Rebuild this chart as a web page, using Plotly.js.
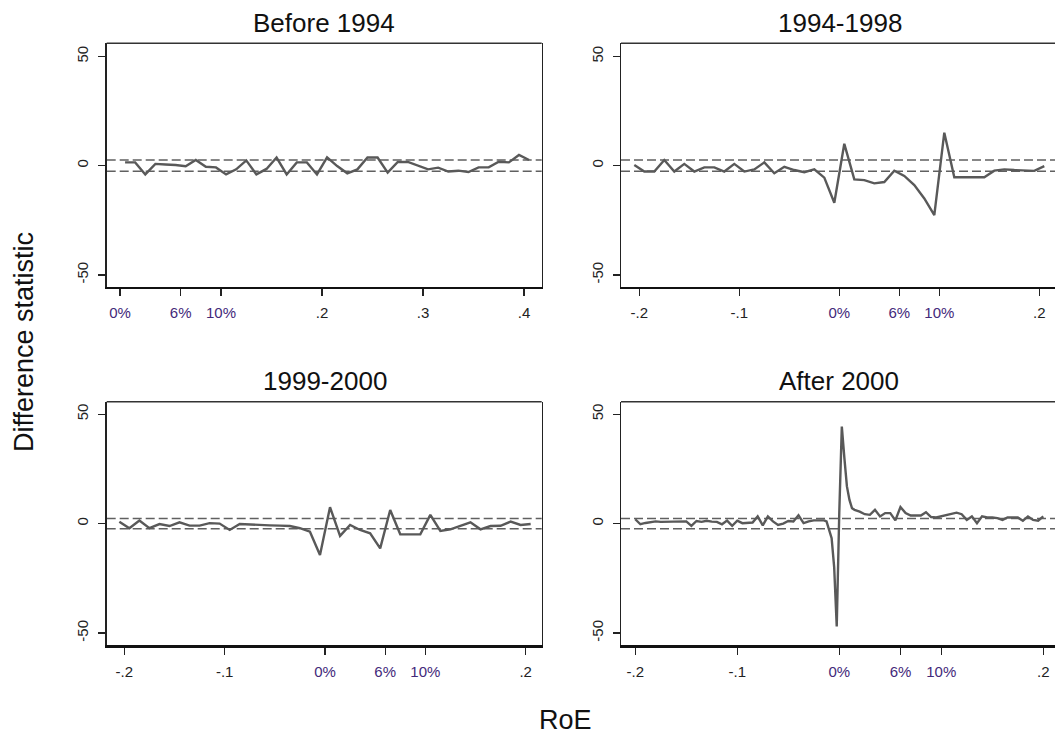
<!DOCTYPE html>
<html>
<head>
<meta charset="utf-8">
<script src="https://cdn.plot.ly/plotly-3.0.1.min.js"></script>
<style>
  html, body { margin: 0; padding: 0; background: #fff; overflow: hidden; }
  #chart { width: 1055px; height: 738px; }
</style>
</head>
<body>
<div id="chart"></div>
<script>
// ---------------- DATA ----------------
const panelTitles = ["Before 1994", "1994-1998", "1999-2000", "After 2000"];
const yAxisTitle = "Difference statistic";
const xAxisTitle = "RoE";

const yTickVals = [-50, 0, 50];
const yTickText = ["-50", "0", "50"];

const xTickVals1 = [0, 0.06, 0.1, 0.2, 0.3, 0.4];
const xTickText1 = ["0%", "6%", "10%", ".2", ".3", ".4"];
const xTickVals234 = [-0.2, -0.1, 0, 0.06, 0.1, 0.2];
const xTickText234 = ["-.2", "-.1", "0%", "6%", "10%", ".2"];

// critical bands (dashed lines)
const bandTop = [2.58, -2.58];
const bandBottom = [2.33, -2.33];

// Before 1994
const roe1 = [0.005,0.015,0.025,0.035,0.045,0.055,0.065,0.075,0.085,0.095,
              0.105,0.115,0.125,0.135,0.145,0.155,0.165,0.175,0.185,0.195,
              0.205,0.215,0.225,0.235,0.245,0.255,0.265,0.275,0.285,0.295,
              0.305,0.315,0.325,0.335,0.345,0.355,0.365,0.375,0.385,0.395,0.405];
const diff1 = [1.5,1.5,-4,0.8,0.5,0.3,-0.3,2.6,-0.5,-0.8,
               -4,-1.7,2.4,-4,-1.5,3.7,-4,1.5,1.5,-4,
               3.8,-0.2,-3.5,-1.7,3.7,3.7,-3.2,1.7,1.7,0,
               -1.7,-0.9,-2.7,-2.3,-2.9,-0.8,-0.8,1.8,1.5,4.9,2.6];

// 1994-1998
const roe2 = [-0.205,-0.195,-0.185,-0.175,-0.165,-0.155,-0.145,-0.135,-0.125,-0.115,
              -0.105,-0.095,-0.085,-0.075,-0.065,-0.055,-0.045,-0.035,-0.025,-0.015,
              -0.005,0.005,0.015,0.025,0.035,0.045,0.055,0.065,0.075,0.085,
              0.095,0.105,0.115,0.125,0.135,0.145,0.155,0.165,0.175,0.185,0.195,0.205];
const diff2 = [0.3,-2.7,-2.7,2.6,-2.7,0.8,-2.7,-0.8,-0.8,-2.7,
               0.8,-2.7,-1.7,1.5,-3.5,-0.5,-2,-3,-1.7,-5.5,
               -17,10,-6.3,-6.6,-8.1,-7.5,-2.3,-4.7,-8.9,-15,
               -22.6,15.1,-5.3,-5.3,-5.3,-5.3,-2.3,-1.7,-2,-2.3,-2.4,-0.2];

// 1999-2000
const roe3 = [-0.205,-0.195,-0.185,-0.175,-0.165,-0.155,-0.145,-0.135,-0.125,-0.115,
              -0.105,-0.095,-0.085,-0.075,-0.065,-0.055,-0.045,-0.035,-0.025,-0.015,
              -0.005,0.005,0.015,0.025,0.035,0.045,0.055,0.065,0.075,0.085,
              0.095,0.105,0.115,0.125,0.135,0.145,0.155,0.165,0.175,0.185,0.195,0.205];
const diff3 = [0.9,-2.1,1.4,-2.1,-0.2,-1.1,0.6,-0.9,-0.9,0.2,
               0.0,-2.9,-0.2,-0.5,-0.6,-0.8,-0.9,-1.1,-2.1,-3.7,
               -14.3,7.5,-5.6,-0.6,-2.9,-4.4,-11.3,6.2,-4.9,-4.9,
               -4.9,4.0,-3.3,-2.6,-1.1,0.6,-2.6,-1.1,-1.0,0.9,-0.6,-0.2];

// After 2000
const roe4 = [-0.200,-0.195,-0.190,-0.185,-0.180,-0.175,-0.170,-0.165,-0.160,-0.155,
              -0.150,-0.145,-0.140,-0.135,-0.130,-0.125,-0.120,-0.115,-0.110,-0.105,
              -0.100,-0.095,-0.090,-0.085,-0.080,-0.075,-0.070,-0.065,-0.060,-0.055,
              -0.050,-0.045,-0.040,-0.035,-0.030,-0.025,-0.020,-0.015,
              -0.0125,-0.010,-0.0075,-0.005,-0.0025,0,0.0025,0.005,0.0075,0.010,0.0125,0.015,
              0.020,0.025,0.030,0.035,0.040,0.045,0.050,0.055,0.060,0.065,
              0.070,0.075,0.080,0.085,0.090,0.095,0.100,0.105,0.110,0.115,
              0.120,0.125,0.130,0.135,0.140,0.145,0.150,0.155,0.160,0.165,
              0.170,0.175,0.180,0.185,0.190,0.195,0.200];
const diff4 = [2.0,-0.3,0.3,0.8,1.0,0.8,0.8,0.8,0.9,0.9,
               1.0,-1.0,1.2,0.8,1.3,0.9,0.8,-0.3,1.4,-1.0,
               1.3,0.2,0.3,0.5,3.3,-0.8,3.3,1.0,-0.6,0.0,
               1.2,1.0,3.8,0.2,1.0,1.5,1.5,1.5,
               1.0,-2.9,-6.7,-20,-47,5,44.3,30,17,10.8,7,6.3,
               5.5,4.3,4.0,6.3,3.3,4.8,4.8,1.5,7.6,4.8,
               3.7,3.7,3.7,5.2,3.0,2.8,3.3,4.0,4.5,5.0,
               4.3,1.7,3.3,0.2,3.3,2.8,2.8,2.5,1.7,2.8,
               2.8,2.8,1.3,3.3,1.7,1.3,3.3];

// ---------------- LAYOUT HELPERS ----------------
const W = 1055, H = 738;
const FONT = "Liberation Sans, Arial, Helvetica, sans-serif";
const PCT = "#43297a";
const INK = "#222222";
const px = v => v / W;
const py = v => 1 - v / H;

function colorTicks(arr) {
  return arr.map(t => t.indexOf('%') >= 0 ? '<span style="color:' + PCT + '">' + t + '</span>' : t);
}

function xAxis(domain, range, vals, text, anchor) {
  return {
    domain: domain, range: range, anchor: anchor,
    tickmode: 'array', tickvals: vals, ticktext: colorTicks(text),
    ticks: 'outside', ticklen: 7, tickwidth: 1.3, tickcolor: INK,
    ticklabelstandoff: 4,
    showline: true, linecolor: '#111', linewidth: 2.5, mirror: false,
    showgrid: false, zeroline: false, fixedrange: true,
    tickfont: {family: FONT, size: 15, color: INK}
  };
}
function yAxis(domain, range, anchor, mirror) {
  return {
    domain: domain, range: range, anchor: anchor,
    tickmode: 'array', tickvals: yTickVals, ticktext: yTickText, tickangle: -90,
    ticks: 'outside', ticklen: 7, tickwidth: 1.3, tickcolor: INK,
    ticklabelstandoff: 4,
    showline: true, linecolor: '#222', linewidth: 1.5, mirror: mirror,
    showgrid: false, zeroline: false, fixedrange: true,
    tickfont: {family: FONT, size: 15, color: INK}
  };
}

const lineStyle = {color: '#595959', width: 2.4};
const series = [[roe1, diff1], [roe2, diff2], [roe3, diff3], [roe4, diff4]];
const traces = series.map((s, i) => ({
  type: 'scatter', mode: 'lines', x: s[0], y: s[1],
  xaxis: i === 0 ? 'x' : 'x' + (i + 1),
  yaxis: i === 0 ? 'y' : 'y' + (i + 1),
  line: lineStyle, hoverinfo: 'skip'
}));

const xDomL = [px(106.7), px(541.7)];
const xDomR = [px(621), 1];
const yDomT = [py(286.7), py(43.3)];
const yDomB = [py(645.3), py(401.7)];

const shapes = [];
const axIds = ['', '2', '3', '4'];
axIds.forEach((id, i) => {
  const band = i < 2 ? bandTop : bandBottom;
  band.forEach(v => shapes.push({
    type: 'line', layer: 'below', xref: 'x' + id + ' domain', yref: 'y' + id,
    x0: 0, x1: 1, y0: v, y1: v,
    line: {color: '#606060', width: 1.6, dash: '9px,4px'}
  }));
  shapes.push({
    type: 'line', xref: 'x' + id + ' domain', yref: 'y' + id + ' domain',
    x0: 0, x1: 1, y0: 1, y1: 1, line: {color: '#333', width: 1.5}
  });
});

const titlePos = [[323.5, 22.5], [840, 22.5], [325, 381], [839, 381]];
const annotations = panelTitles.map((t, i) => ({
  text: t, xref: 'paper', yref: 'paper',
  x: px(titlePos[i][0]), y: py(titlePos[i][1]),
  xanchor: 'center', yanchor: 'middle', showarrow: false,
  font: {family: FONT, size: 26, color: '#111'}
}));
annotations.push({
  text: yAxisTitle, xref: 'paper', yref: 'paper', x: px(24), y: py(342),
  xanchor: 'center', yanchor: 'middle', textangle: -90, showarrow: false,
  font: {family: FONT, size: 27, color: '#111'}
});
annotations.push({
  text: xAxisTitle, xref: 'paper', yref: 'paper', x: px(565), y: py(720),
  xanchor: 'center', yanchor: 'middle', showarrow: false,
  font: {family: FONT, size: 27, color: '#111'}
});

const layout = {
  width: W, height: H,
  margin: {l: 0, r: 0, t: 0, b: 0},
  paper_bgcolor: '#fff', plot_bgcolor: '#fff',
  showlegend: false,
  font: {family: FONT, color: INK, size: 15},
  xaxis:  xAxis(xDomL, [-0.0132, 0.4175], xTickVals1, xTickText1, 'y'),
  yaxis:  yAxis(yDomT, [-55.4, 56.0], 'x', true),
  xaxis2: xAxis(xDomR, [-0.2183, 0.2157], xTickVals234, xTickText234, 'y2'),
  yaxis2: yAxis(yDomT, [-55.4, 56.0], 'x2', false),
  xaxis3: xAxis(xDomL, [-0.2176, 0.216], xTickVals234, xTickText234, 'y3'),
  yaxis3: yAxis(yDomB, [-55.6, 55.7], 'x3', true),
  xaxis4: xAxis(xDomR, [-0.214, 0.2115], xTickVals234, xTickText234, 'y4'),
  yaxis4: yAxis(yDomB, [-55.6, 55.7], 'x4', false),
  shapes: shapes,
  annotations: annotations
};

Plotly.newPlot('chart', traces, layout, {staticPlot: true, displayModeBar: false});
</script>
</body>
</html>
